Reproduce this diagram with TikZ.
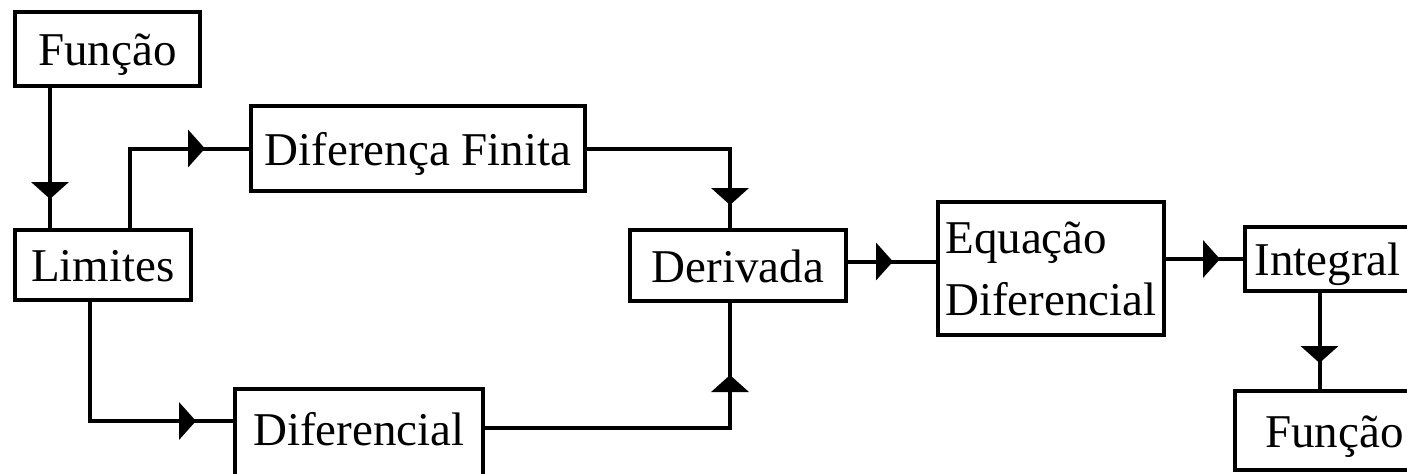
\documentclass[tikz,border=0pt]{standalone}
\usepackage{fontspec}
\setmainfont{Liberation Serif}
\usetikzlibrary{arrows.meta,decorations.markings}
\tikzset{
	box/.style = {draw, line width = 2pt, inner sep = 2pt, font = \fontsize{23.5}{31}\selectfont},
	lbl/.style = {box, text height = 16.5pt, text depth = 0pt},
	arrowat/.style = {line width = 2pt, postaction = {decorate},
		decoration = {markings, mark = at position #1 with {\arrow{Triangle[width = 18.5pt, length = 8.5pt]}}}}
}

\begin{document}
\begin{tikzpicture}[x = 0.5pt, y = -0.5pt]
			\useasboundingbox (0, 0) rectangle (1407, 473);
			\clip (0, 0) rectangle (1407, 473);
			% boxes
			\node[lbl, minimum width = 92.5pt, minimum height = 37pt] (funcA) at (107.5, 49) {Função};
			\node[lbl, minimum width = 88pt, minimum height = 35pt] (limites) at (103, 265) {Limites};
			\node[lbl, minimum width = 167pt, minimum height = 42.5pt] (difFin) at (418, 148.5) {Diferença Finita};
			\node[lbl, minimum width = 108pt, minimum height = 35.5pt] (deriv) at (738, 265.5) {Derivada};
			\node[lbl, text depth = 16.5pt, minimum width = 124pt, minimum height = 56pt] (difl) at (359, 445) {Diferencial};
			\node[box, align = left, minimum width = 113pt, minimum height = 66.5pt] (eqdif) at (1051, 268.5) {Equação\\Diferencial};
			\node[lbl, minimum width = 82.5pt, minimum height = 32pt] (integ) at (1327.5, 259) {Integral};
			\node[lbl, minimum width = 99.5pt, minimum height = 39.5pt] (funcB) at (1334.5, 430.5) {Função};
			% connectors
			\draw[arrowat = -14.5pt] ([xshift = 18.5pt]funcA.south west) -- ([xshift = 18.5pt]limites.north west);
			\draw[arrowat = -22pt] ([xshift = 58.5pt]limites.north west) |- (difFin.west);
			\draw[arrowat = -11.5pt] (difFin.east) -| ([xshift = -4pt]deriv.north);
			\draw[arrowat = -18.5pt] ([xshift = 38.5pt]limites.south west) |- ([yshift = -17pt]difl.north west);
			\draw[arrowat = -36pt] ([yshift = -20.5pt]difl.north east) -| ([xshift = -4pt]deriv.south);
			\draw[arrowat = -21.5pt] ([yshift = 2pt]deriv.east) -- ([yshift = 2pt]deriv.east -| eqdif.west);
			\draw[arrowat = -11.5pt] (integ.west -| eqdif.east) -- (integ.west);
			\draw[arrowat = -13pt] ([xshift = -4pt]integ.south) -- ([xshift = -4pt]integ.south |- funcB.north);
		\end{tikzpicture}
\end{document}
